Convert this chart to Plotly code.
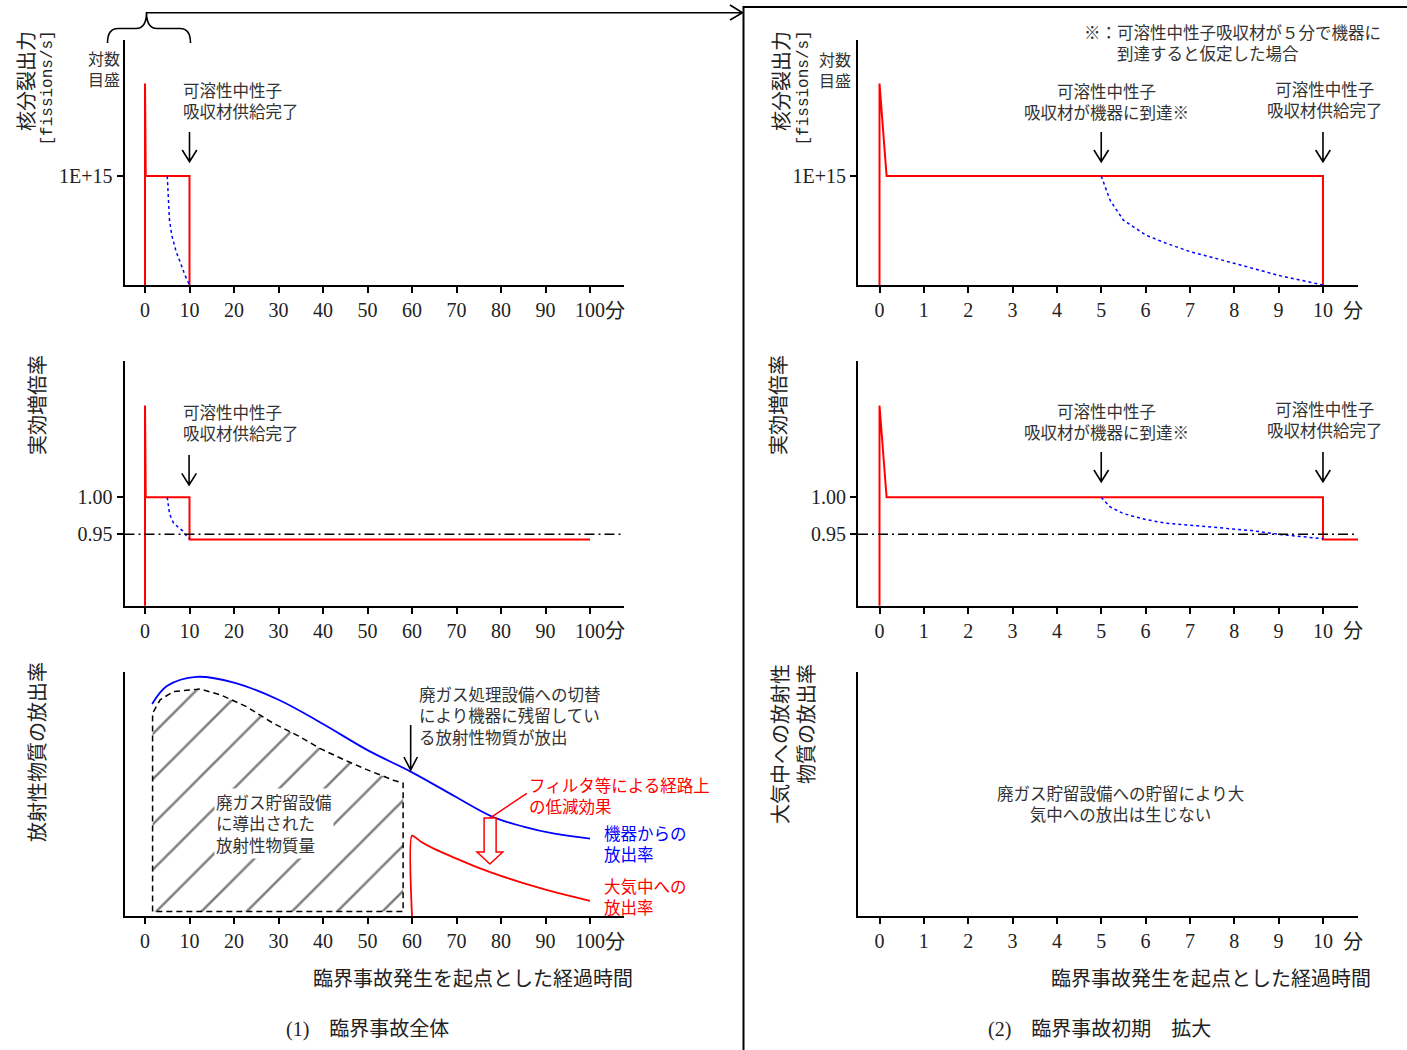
import plotly.graph_objects as go
from plotly.subplots import make_subplots

W, H = 1407, 1050

# ---------------- data ----------------
# fission rate [fissions/s] (log scale) - same history in overall and zoomed views
fission_t = [0.0, 0.0, 0.16, 10.0, 10.0]
fission_rate = [1e13, 5e16, 1e15, 1e15, 1e13]
# case: soluble neutron absorber reaches the equipment at 5 min
absorber_t = [5.0, 5.2, 5.5, 6.0, 6.45, 7.0, 8.0, 9.0, 10.0]
absorber_fission = [1.0e15, 3.6e14, 1.55e14, 8.3e13, 5.9e13, 4.1e13, 2.5e13, 1.5e13, 1.0e13]

# effective multiplication factor
keff_t = [0.0, 0.0, 0.16, 10.0, 10.0, 100.0]
keff = [0.85, 1.124, 1.0, 1.0, 0.943, 0.943]
absorber_keff_t = [5.0, 5.2, 5.5, 6.0, 6.45, 7.4, 8.4, 9.0, 10.0]
absorber_keff = [1.000, 0.987, 0.978, 0.970, 0.965, 0.960, 0.955, 0.950, 0.944]
keff_limit = 0.95

# release rate of radioactive material (relative units)
device_t = [1.6, 5, 11.6, 20, 30, 40, 50, 60, 70, 78, 85, 92, 100]
device_rate = [86.8, 94.2, 97.9, 95.5, 88.5, 78.6, 67.9, 58.8, 48.6, 40.7, 36.6, 33.7, 31.7]
atm_t = [60, 60, 62, 65, 70, 75, 80, 85, 90, 95, 100]
atm_rate = [0, 32.9, 30.4, 27.5, 23.5, 19.7, 16.4, 13.5, 10.8, 8.4, 6.2]
stored_t = [1.7, 1.7, 3.4, 6.4, 12.4, 17, 22.8, 28.8, 34.8, 39.3, 44.9, 50, 55.8, 58, 58, 1.7]
stored_amount = [1.8, 83.0, 88.5, 91.9, 92.9, 90.5, 85.7, 78.9, 73.4, 68.6, 63.8, 59.8, 55.6, 54.4, 1.8, 1.8]

left_tickvals = [0, 10, 20, 30, 40, 50, 60, 70, 80, 90, 100]
left_ticktext = ["0", "10", "20", "30", "40", "50", "60", "70", "80", "90", "100"]
right_tickvals = [0, 1, 2, 3, 4, 5, 6, 7, 8, 9, 10]
right_ticktext = ["0", "1", "2", "3", "4", "5", "6", "7", "8", "9", "10"]

# ---------------- style ----------------
SERIF = "Liberation Serif, Noto Sans CJK JP"
JP = "Noto Sans CJK JP"
MONO = "Liberation Mono"
RED = "#ff0000"
BLUE = "#0000ff"
TXT = "#333333"

LEFT_RANGE = [-4.61, 107.64]
RIGHT_RANGE = [-0.485, 10.79]
LPX = 4.45     # px per minute (left)
RPX = 44.35    # px per minute (right)


def PX(x):
    return x / W


def PY(y):
    return 1 - y / H


fig = make_subplots(rows=3, cols=2)

# row 1
fig.add_trace(go.Scatter(x=fission_t, y=fission_rate, mode="lines",
                         line=dict(color=RED, width=2)), row=1, col=1)
fig.add_trace(go.Scatter(x=absorber_t, y=absorber_fission, mode="lines",
                         line=dict(color=BLUE, width=1.5, dash="dot")), row=1, col=1)
fig.add_trace(go.Scatter(x=fission_t, y=fission_rate, mode="lines",
                         line=dict(color=RED, width=2)), row=1, col=2)
fig.add_trace(go.Scatter(x=absorber_t, y=absorber_fission, mode="lines",
                         line=dict(color=BLUE, width=1.5, dash="dot")), row=1, col=2)
# row 2
fig.add_trace(go.Scatter(x=keff_t, y=keff, mode="lines",
                         line=dict(color=RED, width=2)), row=2, col=1)
fig.add_trace(go.Scatter(x=absorber_keff_t, y=absorber_keff, mode="lines",
                         line=dict(color=BLUE, width=1.5, dash="dot")), row=2, col=1)
fig.add_trace(go.Scatter(x=keff_t, y=keff, mode="lines",
                         line=dict(color=RED, width=2)), row=2, col=2)
fig.add_trace(go.Scatter(x=absorber_keff_t, y=absorber_keff, mode="lines",
                         line=dict(color=BLUE, width=1.5, dash="dot")), row=2, col=2)
# row 3
fig.add_trace(go.Scatter(x=stored_t, y=stored_amount, mode="lines", fill="toself",
                         fillcolor="rgba(0,0,0,0)",
                         fillpattern=dict(shape="/", size=32, solidity=0.08,
                                          fgcolor="black", bgcolor="rgba(0,0,0,0)"),
                         line=dict(color="black", width=1.5, dash="6px,4px")), row=3, col=1)
fig.add_trace(go.Scatter(x=device_t, y=device_rate, mode="lines", line_shape="spline",
                         line=dict(color=BLUE, width=1.8)), row=3, col=1)
fig.add_trace(go.Scatter(x=atm_t, y=atm_rate, mode="lines", line_shape="spline",
                         line=dict(color=RED, width=1.8, smoothing=0.6)), row=3, col=1)
# empty trace so the right bottom axis is drawn
fig.add_trace(go.Scatter(x=[], y=[], mode="lines"), row=3, col=2)

LX = [124.5 / W, 624 / W]
RX = [858 / W, 1358 / W]
ROWS = [[PY(285), PY(40)], [PY(605.7), PY(360.7)], [PY(916), PY(671.7)]]

axbase = dict(showline=True, linecolor="black", linewidth=2, showgrid=False, zeroline=False,
              ticks="outside", tickcolor="black", ticklen=6, tickwidth=1.5,
              tickfont=dict(family=SERIF, size=20, color="#222"))

for i, (r, c) in enumerate([(1, 1), (1, 2), (2, 1), (2, 2), (3, 1), (3, 2)]):
    n = "" if i == 0 else str(i + 1)
    xa = dict(axbase)
    if c == 1:
        xa.update(domain=LX, range=LEFT_RANGE, tickvals=left_tickvals, ticktext=left_ticktext)
    else:
        xa.update(domain=RX, range=RIGHT_RANGE, tickvals=right_tickvals, ticktext=right_ticktext)
    ya = dict(axbase)
    ya["domain"] = ROWS[r - 1]
    if r == 1:
        ya.update(type="log", range=[13, 17.5], tickvals=[1e15], ticktext=["1E+15"])
    elif r == 2:
        ya.update(range=[0.8535, 1.1846], tickvals=[1.0, 0.95], ticktext=["1.00", "0.95"])
    else:
        ya.update(range=[0, 100], ticks="", showticklabels=False)
    fig.layout["xaxis" + n].update(xa)
    fig.layout["yaxis" + n].update(ya)

shapes = []
# 0.95 reference lines
for ax in ["3", "4"]:
    shapes.append(dict(type="line", xref="x" + ax + " domain", yref="y" + ax,
                       x0=0, x1=1, y0=keff_limit, y1=keff_limit,
                       line=dict(color="black", width=1.5, dash="10px,4px,2px,4px")))


def down_arrow(xref, x, ytop, ytip, unit_px, wing=7.3, head=11.7):
    dx = wing / unit_px
    p = (f"M {x},{PY(ytop)} L {x},{PY(ytip)} "
         f"M {x - dx},{PY(ytip - head)} L {x},{PY(ytip)} L {x + dx},{PY(ytip - head)}")
    return dict(type="path", path=p, xref=xref, yref="paper",
                line=dict(color="black", width=1.6))


shapes.append(down_arrow("x", 10, 132, 161.7, LPX))
shapes.append(down_arrow("x3", 9.9, 455, 485, LPX))
shapes.append(down_arrow("x2", 5, 132, 161.7, RPX))
shapes.append(down_arrow("x2", 10, 132, 161.7, RPX))
shapes.append(down_arrow("x4", 5, 452, 481.7, RPX))
shapes.append(down_arrow("x4", 10, 452, 481.7, RPX))
shapes.append(down_arrow("x5", 59.7, 725, 770, LPX, wing=6.7, head=13))

# hollow red arrow (reduction by filters) and its leader line
shapes.append(dict(type="path", xref="x5", yref="y5",
                   path="M 76.2,40.1 L 78.9,40.1 L 78.9,26.2 L 80.4,26.2 L 77.5,21.3 "
                        "L 74.6,26.2 L 76.2,26.2 Z",
                   line=dict(color=RED, width=1.5), fillcolor="white"))
shapes.append(dict(type="line", xref="x5", yref="y5", x0=77.5, y0=40.1, x1=85.8, y1=50.2,
                   line=dict(color=RED, width=1.5)))


def ppath(cmds):
    out = []
    for c in cmds:
        if isinstance(c, str):
            out.append(c)
        else:
            out.append(f"{PX(c[0])},{PY(c[1])}")
    return " ".join(out)


# brace over 0-10 min
shapes.append(dict(type="path", xref="paper", yref="paper",
                   path=ppath(["M", (107.5, 43), "Q", (107.5, 28.5), (118, 28.5), "L", (136, 28.5),
                               "Q", (146.5, 28.5), (146.5, 12), "Q", (146.5, 28.5), (157, 28.5),
                               "L", (180, 28.5), "Q", (190.5, 28.5), (190.5, 43)]),
                   line=dict(color="black", width=1.6)))
# arrow to the zoomed panel
shapes.append(dict(type="path", xref="paper", yref="paper",
                   path=ppath(["M", (146.5, 12.7), "L", (742, 12.7),
                               "M", (730, 5), "L", (742.5, 12.7), "L", (730, 20)]),
                   line=dict(color="black", width=1.6)))
# frame of the zoomed panel
shapes.append(dict(type="path", xref="paper", yref="paper",
                   path=ppath(["M", (743.5, 1050), "L", (743.5, 7), "L", (1407, 7)]),
                   line=dict(color="black", width=2)))


def txt(text, x, y, size=16.5, color=TXT, family=JP, xanchor="center", yanchor="middle",
        align="center", angle=0, bg="rgba(0,0,0,0)"):
    return dict(text=text, x=PX(x), y=PY(y), xref="paper", yref="paper", showarrow=False,
                font=dict(family=family, size=size, color=color), xanchor=xanchor,
                yanchor=yanchor, align=align, textangle=angle, bgcolor=bg)


ann = []
# axis titles (vertical)
ann.append(txt("核分裂出力", 25, 29, size=20, color="#222", yanchor="top", angle=-90))
ann.append(txt("[fissions/s]", 47, 29, size=16, color="#222", family=MONO, yanchor="top", angle=-90))
ann.append(txt("核分裂出力", 780, 29, size=20, color="#222", yanchor="top", angle=-90))
ann.append(txt("[fissions/s]", 803, 29, size=16, color="#222", family=MONO, yanchor="top", angle=-90))
ann.append(txt("実効増倍率", 37, 353, size=20, color="#222", yanchor="top", angle=-90))
ann.append(txt("実効増倍率", 778, 353, size=20, color="#222", yanchor="top", angle=-90))
ann.append(txt("放射性物質の放出率", 36, 660, size=20, color="#222", yanchor="top", angle=-90))
ann.append(txt("大気中への放射性<br>物質の放出率", 792, 662, size=20, color="#222",
               yanchor="top", align="right", angle=-90))
# log scale notes
ann.append(txt("対数<br>目盛", 104, 68, size=16))
ann.append(txt("対数<br>目盛", 835, 69, size=16))
# event notes
ann.append(txt("可溶性中性子<br>吸収材供給完了", 181, 100, xanchor="left", align="left"))
ann.append(txt("可溶性中性子<br>吸収材供給完了", 181, 423, xanchor="left", align="left"))
ann.append(txt("可溶性中性子<br>吸収材が機器に到達※", 1106, 101.5))
ann.append(txt("可溶性中性子<br>吸収材供給完了", 1325, 99.5))
ann.append(txt("可溶性中性子<br>吸収材が機器に到達※", 1106, 421))
ann.append(txt("可溶性中性子<br>吸収材供給完了", 1325, 419.5))
ann.append(txt("※：可溶性中性子吸収材が５分で機器に<br>　　到達すると仮定した場合",
               1082, 42, xanchor="left", align="left"))
# release panel notes
ann.append(txt("廃ガス処理設備への切替<br>により機器に残留してい<br>る放射性物質が放出",
               417, 715, xanchor="left", align="left"))
ann.append(txt("廃ガス貯留設備<br>に導出された<br>放射性物質量", 214, 823.5,
               xanchor="left", align="left", bg="white"))
ann.append(txt("フィルタ等による経路上<br>の低減効果", 527, 795, color=RED,
               xanchor="left", align="left"))
ann.append(txt("機器からの<br>放出率", 602, 843.5, color=BLUE, xanchor="left", align="left"))
ann.append(txt("大気中への<br>放出率", 602, 896, color=RED, xanchor="left", align="left"))
ann.append(txt("廃ガス貯留設備への貯留により大<br>気中への放出は生じない", 1120, 803))
# unit labels next to last ticks
for yy in [309.5, 629.5, 940.5]:
    ann.append(txt("分", 615, yy, size=20, color="#222"))
    ann.append(txt("分", 1353, yy, size=20, color="#222"))
# x-axis titles and captions
ann.append(txt("臨界事故発生を起点とした経過時間", 473, 977, size=20, color="#222"))
ann.append(txt("臨界事故発生を起点とした経過時間", 1211, 977, size=20, color="#222"))
ann.append(txt("(1)　臨界事故全体", 367, 1029, size=20, color="#222", family=SERIF))
ann.append(txt("(2)　臨界事故初期　拡大", 1099, 1029, size=20, color="#222", family=SERIF))

fig.update_layout(width=W, height=H, margin=dict(l=0, r=0, t=0, b=0),
                  paper_bgcolor="white", plot_bgcolor="white", showlegend=False,
                  shapes=shapes, annotations=ann)

fig.write_html("out.html", config={"displayModeBar": False})
